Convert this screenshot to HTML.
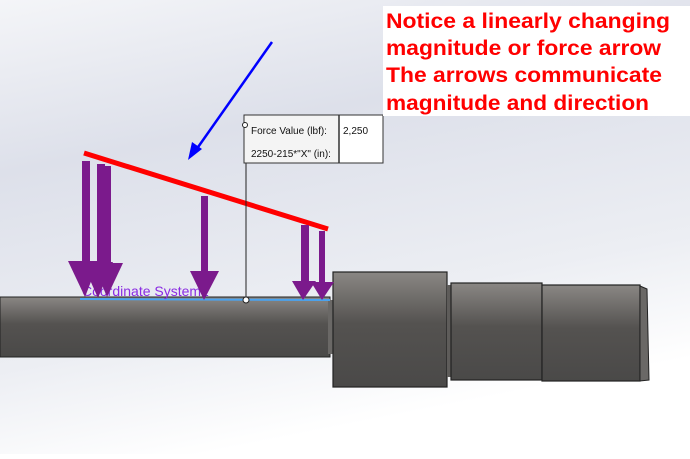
<!DOCTYPE html>
<html><head><meta charset="utf-8"><style>
body{margin:0;width:690px;height:454px;overflow:hidden;font-family:"Liberation Sans",sans-serif}
</style></head><body>
<svg width="690" height="454" viewBox="0 0 690 454" xmlns="http://www.w3.org/2000/svg">
<defs>
<linearGradient id="bg" x1="0" y1="0" x2="0.3" y2="1">
<stop offset="0" stop-color="#f4f5f8"/><stop offset="0.35" stop-color="#dde0ea"/><stop offset="0.75" stop-color="#eceef3"/><stop offset="1" stop-color="#ffffff"/>
</linearGradient>
<linearGradient id="metal" x1="0" y1="0" x2="0" y2="1">
<stop offset="0" stop-color="#8a8784"/><stop offset="0.45" stop-color="#545250"/><stop offset="1" stop-color="#4a4948"/>
</linearGradient>
</defs>
<rect width="690" height="454" fill="url(#bg)"/>
<rect x="0" y="297" width="330" height="60" fill="url(#metal)" stroke="#222" stroke-width="1"/>
<rect x="328" y="300" width="6" height="54" fill="#6a6866"/>
<rect x="333" y="272" width="114" height="115" fill="url(#metal)" stroke="#222" stroke-width="1.2"/>
<rect x="447" y="285" width="5" height="92" fill="#5e5c5a"/>
<rect x="451" y="283" width="91" height="97" fill="url(#metal)" stroke="#222" stroke-width="1.2"/>
<rect x="542" y="285" width="98" height="96" fill="url(#metal)" stroke="#222" stroke-width="1.2"/>
<path d="M640 286 L647 289 L649 380 L640 381 Z" fill="#6a6866" stroke="#222"/>
<line x1="80" y1="299" x2="330" y2="300" stroke="#4aa3f0" stroke-width="2"/>
<line x1="84" y1="153" x2="328" y2="229" stroke="#ff0000" stroke-width="5"/>
<text x="82" y="296" font-size="14" fill="#8a2be2">Coordinate System1</text>
<g fill="#7b1a8c">
<rect x="82" y="161" width="8" height="105"/><path d="M68 261 L99 261 L85 297 Z"/>
<rect x="97" y="164" width="8" height="102"/><path d="M82 262 L113 262 L98 298 Z"/>
<rect x="105" y="166" width="6" height="100"/><path d="M93 263 L123 263 L107 297 Z"/>
<rect x="201" y="196" width="7" height="76"/><path d="M190 271 L219 271 L204 300 Z"/>
<rect x="301" y="225" width="8" height="60"/><path d="M292 281 L316 281 L303 300 Z"/>
<rect x="319" y="231" width="6" height="53"/><path d="M311 282 L334 282 L322 300 Z"/>
</g>
<line x1="272" y1="42" x2="196" y2="150" stroke="#0000ff" stroke-width="2.5"/>
<path d="M188 160 L192 142 L202 149 Z" fill="#0000ff"/>
<line x1="246" y1="163" x2="246" y2="300" stroke="#222" stroke-width="1"/>
<circle cx="246" cy="300" r="3" fill="#fff" stroke="#222"/>
<rect x="244" y="115" width="139" height="48" fill="#fff" stroke="#333"/>
<rect x="244" y="115" width="95" height="48" fill="#f4f4f4"/>
<line x1="339" y1="115" x2="339" y2="163" stroke="#333" stroke-width="1.5"/>
<rect x="244" y="115" width="139" height="48" fill="none" stroke="#333"/>
<text x="251" y="134" font-size="10" fill="#111">Force Value (lbf):</text>
<text x="343" y="134" font-size="10" fill="#111">2,250</text>
<text x="251" y="157" font-size="10" fill="#111">2250-215*"X" (in):</text>
<circle cx="245" cy="125" r="2.5" fill="#fff" stroke="#222"/>
<rect x="383" y="6" width="307" height="110" fill="#fff"/>
<g font-size="21" font-weight="bold" fill="#ff0000" lengthAdjust="spacingAndGlyphs">
<text x="386" y="28" textLength="284" lengthAdjust="spacingAndGlyphs">Notice a linearly changing</text>
<text x="386" y="55" textLength="275" lengthAdjust="spacingAndGlyphs">magnitude or force arrow</text>
<text x="386" y="82" textLength="276" lengthAdjust="spacingAndGlyphs">The arrows communicate</text>
<text x="386" y="110" textLength="263" lengthAdjust="spacingAndGlyphs">magnitude and direction</text>
</g>
</svg>
</body></html>
